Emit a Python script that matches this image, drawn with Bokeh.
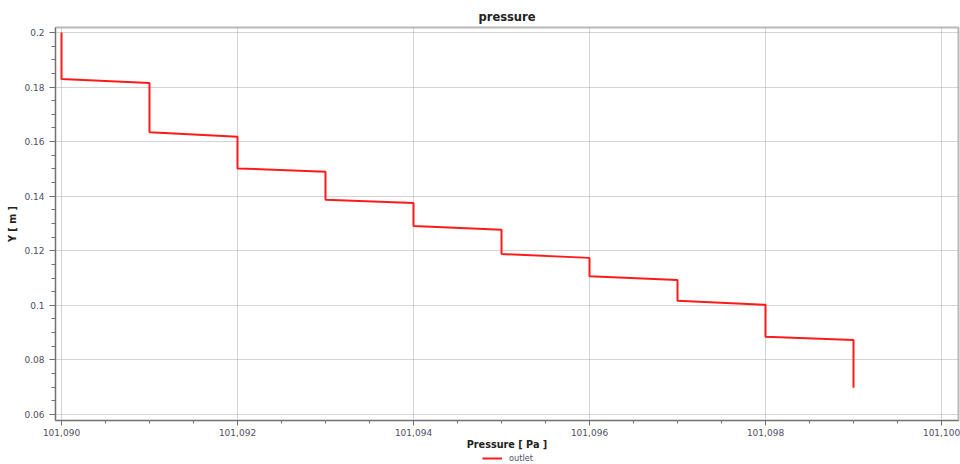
from bokeh.plotting import figure
from bokeh.models import (Range1d, FixedTicker, NumeralTickFormatter, PrintfTickFormatter,
                          Legend, LegendItem, ColumnDataSource)
from bokeh.layouts import column
from bokeh.embed import file_html
from bokeh.resources import INLINE
import numpy as np

# ---- data ----
pressure = [101090, 101090, 101091, 101091, 101092, 101092, 101093, 101093,
            101094, 101094, 101095, 101095, 101096, 101096, 101097, 101097,
            101098, 101098, 101099, 101099]
y_m = [0.2, 0.183, 0.1815, 0.1634, 0.1618, 0.1502, 0.149, 0.1387,
       0.1375, 0.1291, 0.1277, 0.1188, 0.1174, 0.1107, 0.1093, 0.1017,
       0.1002, 0.0885, 0.0873, 0.0698]
series_name = "outlet"

x_ticks = [101090, 101092, 101094, 101096, 101098, 101100]
y_ticks = [0.06, 0.08, 0.1, 0.12, 0.14, 0.16, 0.18, 0.2]
title_text = "pressure"
x_label = "Pressure [ Pa ]"
y_label = "Y [ m ]"

FONT = "DejaVu Sans"
TICK_COLOR = "#4e4e60"
LINE_COLOR = "#ff1a1a"

src = ColumnDataSource(data=dict(pressure=pressure, y=y_m))

p = figure(width=960, height=452, output_backend="svg", toolbar_location=None,
           x_range=Range1d(101089.9318, 101100.193), y_range=Range1d(0.0578, 0.20183),
           min_border_left=55, min_border_right=2, min_border_top=27, min_border_bottom=32)

p.title.text = title_text
p.title.align = "center"
p.title.text_font = FONT
p.title.text_font_size = "11.5px"
p.title.text_font_style = "bold"
p.title.text_color = "#222222"
p.title.standoff = 7

r = p.line("pressure", "y", source=src, line_color=LINE_COLOR, line_width=2)

# ticks
x_minor = list(np.arange(x_ticks[0], x_ticks[-1] + 0.01, 0.5))
y_minor = list(np.round(np.arange(0.055, 0.2051, 0.005), 4))
p.xaxis.ticker = FixedTicker(ticks=x_ticks, minor_ticks=x_minor)
p.yaxis.ticker = FixedTicker(ticks=y_ticks, minor_ticks=y_minor)
p.xaxis.formatter = NumeralTickFormatter(format="0,0")
p.yaxis.formatter = PrintfTickFormatter(format="%g")

for ax in (p.xaxis, p.yaxis):
    ax.major_label_text_font = FONT
    ax.major_label_text_font_size = "9px"
    ax.major_label_text_color = TICK_COLOR
    ax.axis_label_text_font = FONT
    ax.axis_label_text_font_size = "9.7px"
    ax.axis_label_text_font_style = "bold"
    ax.axis_label_text_color = "#222222"
    ax.axis_line_color = "#707070"
    ax.major_tick_line_color = "#707070"
    ax.minor_tick_line_color = "#707070"
    ax.major_tick_in = 0
    ax.minor_tick_in = 0

p.xaxis.axis_label = x_label
p.yaxis.axis_label = y_label
p.xaxis.major_tick_out = 5
p.xaxis.minor_tick_out = 3
p.yaxis.major_tick_out = 6
p.yaxis.minor_tick_out = 4
p.xaxis.major_label_standoff = 3
p.xaxis.axis_label_standoff = 0
p.yaxis.major_label_standoff = 5
p.yaxis.axis_label_standoff = 3

p.grid.grid_line_color = "#a8a8a8"
p.grid.grid_line_dash = "1 1"
p.grid.grid_line_width = 1

p.outline_line_color = "#b8b8b8"
p.outline_line_width = 2
p.background_fill_color = "white"
p.border_fill_color = "white"

# legend strip below the chart (its own renderer uses the same data but lies
# outside this strip's view, so only the legend entry shows)
pl = figure(width=960, height=12, output_backend="svg", toolbar_location=None,
            x_range=Range1d(0, 1), y_range=Range1d(0, 1),
            x_axis_type=None, y_axis_type=None,
            min_border_left=0, min_border_right=0, min_border_top=0, min_border_bottom=0)
pl.outline_line_color = None
pl.grid.visible = False
rl = pl.line("pressure", "y", source=src, line_color=LINE_COLOR, line_width=2)
legend = Legend(items=[LegendItem(label=series_name, renderers=[rl])],
                location=(427, 0), orientation="horizontal",
                label_text_font=FONT, label_text_font_size="8.2px",
                label_text_color=TICK_COLOR, glyph_width=20, glyph_height=12,
                label_height=12, label_standoff=7, padding=0, margin=0,
                border_line_color=None, background_fill_alpha=0)
pl.add_layout(legend, "center")

layout = column(p, pl, spacing=0)
open("out.html", "w").write(file_html(layout, INLINE))
